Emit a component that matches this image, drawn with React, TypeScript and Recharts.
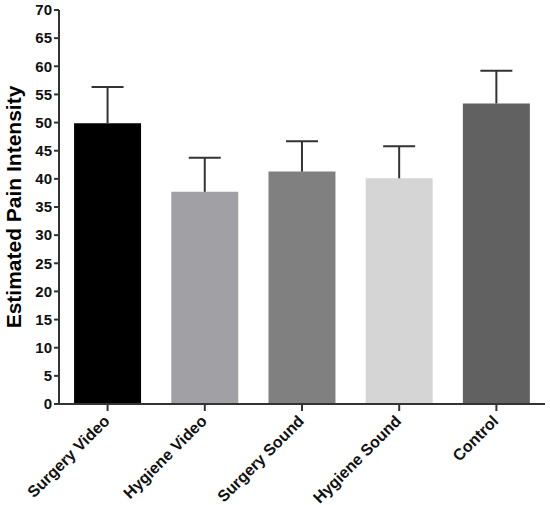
import React from "react";
import { BarChart, Bar, XAxis, YAxis, Cell } from "recharts";

const groups = ["Surgery Video", "Hygiene Video", "Surgery Sound", "Hygiene Sound", "Control"];
const means = [49.9, 37.7, 41.3, 40.1, 53.4];
const errors = [6.4, 6.05, 5.4, 5.7, 5.8];
const fills = ["#000000", "#a1a1a5", "#808080", "#d5d5d5", "#616161"];
const yTicks = [0, 5, 10, 15, 20, 25, 30, 35, 40, 45, 50, 55, 60, 65, 70];

const data = groups.map((g, i) => ({ group: g, mean: means[i], err: errors[i] }));

const font = "'Liberation Sans', Arial, sans-serif";

// upper-only error whisker drawn on the stacked err segment
const ErrorShape = (props: any) => {
  const { x, y, width, height } = props;
  const cx = x + width / 2;
  return (
    <g stroke="#333" strokeWidth={2}>
      <line x1={cx} y1={y + height} x2={cx} y2={y} />
      <line x1={cx - 16} y1={y} x2={cx + 16} y2={y} />
    </g>
  );
};

const XTick = ({ x, y, payload }: any) => (
  <text
    x={x + 3}
    y={y + 9}
    transform={`rotate(-45 ${x + 3} ${y + 9})`}
    textAnchor="end"
    fontFamily={font}
    fontWeight="bold"
    fontSize={16}
    fill="#111"
  >
    {payload.value}
  </text>
);

export default function App() {
  return (
    <div style={{ position: "absolute", left: 0, top: 0 }}>
      <BarChart
        width={550}
        height={505}
        data={data}
        margin={{ top: 10, right: 5, bottom: 0, left: 0 }}
        barCategoryGap="15.5%"
        style={{ overflow: "visible" }}
      >
        <XAxis
          dataKey="group"
          height={101}
          interval={0}
          tick={<XTick />}
          tickSize={7}
          axisLine={{ stroke: "#333", strokeWidth: 2 }}
          tickLine={{ stroke: "#333", strokeWidth: 2 }}
        />
        <YAxis
          domain={[0, 70]}
          ticks={yTicks}
          interval={0}
          width={59}
          tickSize={5}
          axisLine={{ stroke: "#333", strokeWidth: 2 }}
          tickLine={{ stroke: "#333", strokeWidth: 2 }}
          tick={{ fill: "#111", fontSize: 15, fontWeight: "bold", fontFamily: font }}
          label={{
            value: "Estimated Pain Intensity",
            angle: -90,
            position: "insideLeft",
            offset: 13.5,
            style: { textAnchor: "middle", fontSize: 21, fontWeight: "bold", fontFamily: font, fill: "#000" },
          }}
        />
        <Bar dataKey="mean" stackId="a" isAnimationActive={false}>
          {data.map((d, i) => (
            <Cell key={d.group} fill={fills[i]} />
          ))}
        </Bar>
        <Bar dataKey="err" stackId="a" isAnimationActive={false} shape={<ErrorShape />} />
      </BarChart>
    </div>
  );
}
